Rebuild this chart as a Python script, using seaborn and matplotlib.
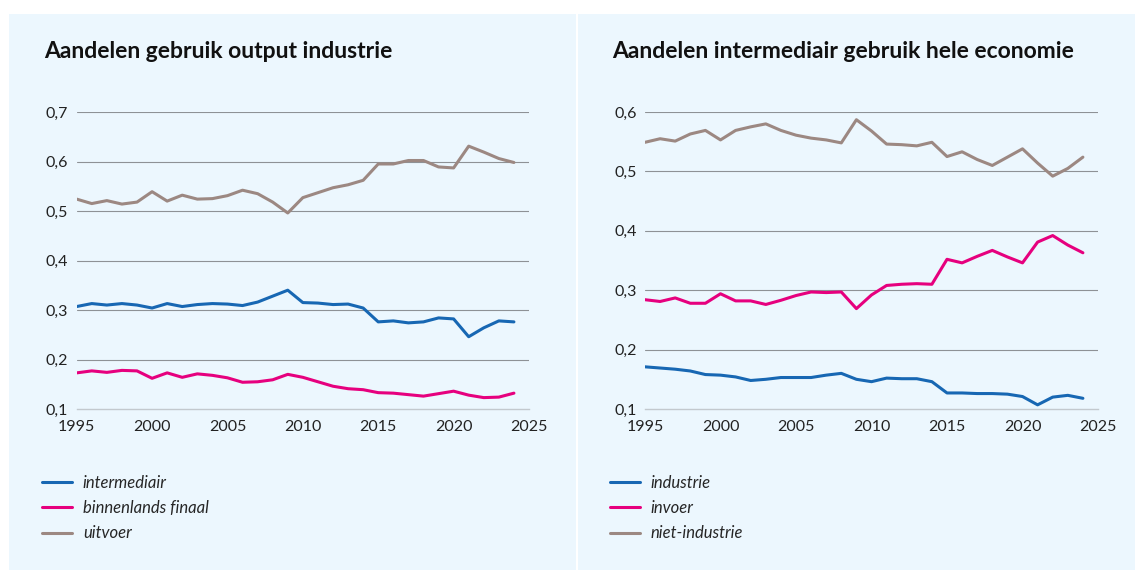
import matplotlib
matplotlib.use("Agg")
import matplotlib.pyplot as plt
import seaborn as sns
import pandas as pd
from matplotlib.patches import Rectangle
from matplotlib.ticker import FuncFormatter

# Data
years = list(range(1995, 2025))

# Left: Aandelen gebruik output industrie
intermediair = [0.307, 0.313, 0.310, 0.313, 0.310, 0.304, 0.313, 0.307, 0.311, 0.313,
                0.312, 0.309, 0.316, 0.328, 0.340, 0.315, 0.314, 0.311, 0.312, 0.304,
                0.276, 0.278, 0.274, 0.276, 0.284, 0.282, 0.246, 0.264, 0.278, 0.276]
binnenlands_finaal = [0.173, 0.177, 0.174, 0.178, 0.177, 0.162, 0.173, 0.164, 0.171, 0.168,
                      0.163, 0.154, 0.155, 0.159, 0.170, 0.164, 0.155, 0.146, 0.141, 0.139,
                      0.133, 0.132, 0.129, 0.126, 0.131, 0.136, 0.128, 0.123, 0.124, 0.132]
uitvoer = [0.524, 0.515, 0.521, 0.514, 0.518, 0.539, 0.520, 0.532, 0.524, 0.525,
           0.531, 0.542, 0.535, 0.518, 0.496, 0.527, 0.537, 0.547, 0.553, 0.562,
           0.595, 0.595, 0.602, 0.602, 0.589, 0.587, 0.631, 0.619, 0.606, 0.598]

# Right: Aandelen intermediair gebruik hele economie
industrie = [0.171, 0.169, 0.167, 0.164, 0.158, 0.157, 0.154, 0.148, 0.150, 0.153,
             0.153, 0.153, 0.157, 0.160, 0.150, 0.146, 0.152, 0.151, 0.151, 0.146,
             0.127, 0.127, 0.126, 0.126, 0.125, 0.121, 0.107, 0.120, 0.123, 0.118]
invoer = [0.284, 0.281, 0.287, 0.278, 0.278, 0.294, 0.282, 0.282, 0.276, 0.283,
          0.291, 0.297, 0.296, 0.297, 0.269, 0.292, 0.308, 0.310, 0.311, 0.310,
          0.352, 0.346, 0.357, 0.367, 0.356, 0.346, 0.381, 0.392, 0.376, 0.363]
niet_industrie = [0.549, 0.555, 0.551, 0.563, 0.569, 0.553, 0.569, 0.575, 0.580, 0.569,
                  0.561, 0.556, 0.553, 0.548, 0.587, 0.568, 0.546, 0.545, 0.543, 0.549,
                  0.525, 0.533, 0.520, 0.510, 0.524, 0.538, 0.514, 0.492, 0.505, 0.524]

left_title = "Aandelen gebruik output industrie"
right_title = "Aandelen intermediair gebruik hele economie"
left_labels = ["intermediair", "binnenlands finaal", "uitvoer"]
right_labels = ["industrie", "invoer", "niet-industrie"]

colors = ["#1767b3", "#e6007e", "#9c8882"]
panel_bg = "#ecf7fe"
grid_col = "#8e9296"

sns.set_style("white")
plt.rcParams["font.family"] = ["Lato", "DejaVu Sans"]

W, H = 1135, 572
fig = plt.figure(figsize=(W / 100, H / 100), dpi=100)
fig.patch.set_facecolor("white")

# panel backgrounds (pixel coords -> figure fractions), kept behind the axes
for x0, x1 in [(9, 576), (578, 1135)]:
    fig.patches.append(Rectangle((x0 / W, 1 - 570 / H), (x1 - x0) / W, (570 - 14) / H,
                                 transform=fig.transFigure, facecolor=panel_bg,
                                 edgecolor="none", zorder=-5))


def fmt(v, _):
    return f"{v:.1f}".replace(".", ",")


def draw_panel(ax_px, title, title_x, series, labels, ytop):
    x0, x1 = ax_px
    ax = fig.add_axes([x0 / W, 1 - 409 / H, (x1 - x0) / W, (409 - 112) / H])
    ax.set_facecolor("none")
    df = pd.DataFrame({"jaar": years})
    for s, lab, c in zip(series, labels, colors):
        df[lab] = s
        sns.lineplot(data=df, x="jaar", y=lab, color=c, linewidth=2.2, ax=ax, label=lab)
    ax.set_xlim(1995, 2025)
    ax.set_ylim(0.1, ytop)
    ax.set_xticks(range(1995, 2026, 5))
    yt = [round(0.1 + 0.1 * i, 1) for i in range(int(round((ytop - 0.1) / 0.1)) + 1)]
    ax.set_yticks(yt)
    ax.yaxis.set_major_formatter(FuncFormatter(fmt))
    for v in yt[1:]:
        ax.axhline(v, color=grid_col, linewidth=0.8, zorder=0)
    for side in ["top", "right", "left"]:
        ax.spines[side].set_visible(False)
    ax.spines["bottom"].set_color("#c3c9ce")
    ax.spines["bottom"].set_linewidth(1.0)
    ax.tick_params(axis="y", length=0, pad=6, labelsize=11.5, labelcolor="#222222")
    ax.tick_params(axis="x", length=5, width=1.0, color="#c3c9ce", pad=3,
                   labelsize=11.5, labelcolor="#222222")
    ax.set_xlabel("")
    ax.set_ylabel("")
    fig.text(title_x / W, 1 - 51 / H, title, fontsize=16.5, fontweight="bold",
             color="#111111", va="center", ha="left")
    handles, labs = ax.get_legend_handles_labels()
    ax.legend(handles, labs, loc="upper left",
              bbox_to_anchor=((title_x - 2) / W, 1 - 475 / H),
              bbox_transform=fig.transFigure, frameon=False, borderaxespad=0,
              borderpad=0, handlelength=1.8, handletextpad=0.65, labelspacing=0.55,
              prop={"style": "italic", "size": 12})
    return ax


draw_panel((76.7, 529), left_title, 44,
           [intermediair, binnenlands_finaal, uitvoer], left_labels, 0.7)
draw_panel((645, 1098), right_title, 612,
           [industrie, invoer, niet_industrie], right_labels, 0.6)

fig.savefig("out.png", dpi=100)
